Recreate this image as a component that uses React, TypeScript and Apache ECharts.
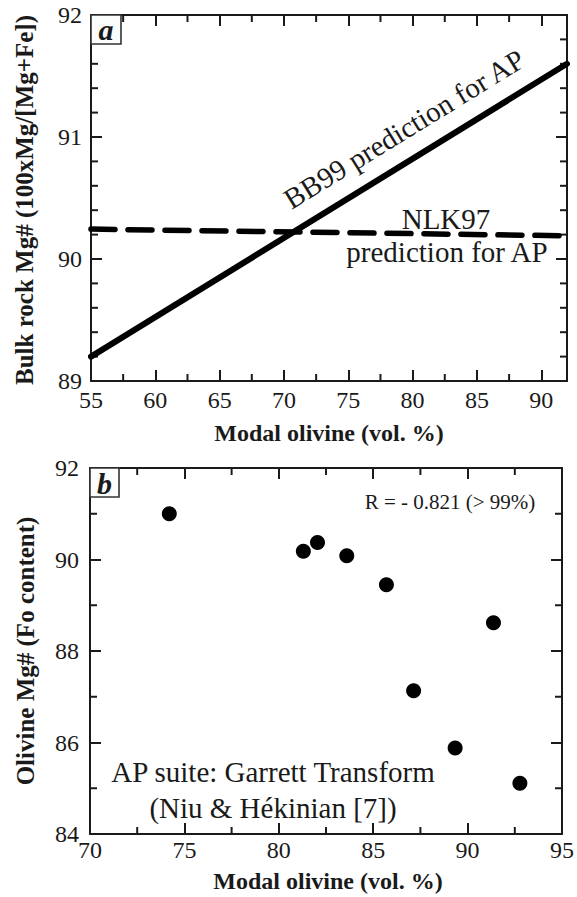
import React, { useEffect, useRef } from "react";
import * as echarts from "echarts";

const FONT = "Liberation Serif, Times New Roman, Times, serif";
const INK = "#1a1a1a";

// ---- Panel a data ----
const aXRange = [55, 92];
const aYRange = [89, 92];
const aXMinorTicks = [57.5, 62.5, 67.5, 72.5, 77.5, 82.5, 87.5];
const aYMinorTicks = [89.2, 89.4, 89.6, 89.8, 90.2, 90.4, 90.6, 90.8, 91.2, 91.4, 91.6, 91.8];
const bb99X = [55, 92];
const bb99Y = [89.2, 91.6];
const nlk97X = [55, 92];
const nlk97Y = [90.245, 90.19];

// ---- Panel b data ----
const bXRange = [70, 95];
const bYRange = [84, 92];
const bXMinorTicks = [72.5, 77.5, 82.5, 87.5, 92.5];
const bYMinorTicks = [85, 87, 89, 91];
const modalOlivine = [74.2, 81.3, 82.05, 83.6, 85.7, 91.37, 87.14, 89.34, 92.77];
const olivineMg = [91.0, 90.18, 90.37, 90.08, 89.45, 88.62, 87.13, 85.88, 85.11];

const MAJOR_LEN = 11;
const MINOR_LEN = 7;
const TICK_W = 2;

function axis(gridIndex: number, position: string, range: number[], interval: number, showLabel: boolean, margin: number, hideValue?: number) {
  return {
    type: "value",
    gridIndex,
    position,
    min: range[0],
    max: range[1],
    interval,
    splitLine: { show: false },
    axisLine: { show: true, onZero: false, lineStyle: { color: INK, width: 2 } },
    axisTick: { show: true, inside: true, length: MAJOR_LEN, lineStyle: { color: INK, width: TICK_W } },
    axisLabel: {
      show: showLabel,
      margin,
      color: INK,
      fontFamily: FONT,
      fontSize: 24,
      formatter: (v: number) => (hideValue !== undefined && Math.abs(v - hideValue) < 1e-6 ? "" : String(v)),
    },
  };
}

function zip(xs: number[], ys: number[]) {
  return xs.map((x, i) => [x, ys[i]]);
}

function minorTicks(chart: any, idx: number, xr: number[], yr: number[], xMinor: number[], yMinor: number[]) {
  const out: any[] = [];
  const finder = { xAxisIndex: idx, yAxisIndex: idx };
  const px = (x: number, y: number) => chart.convertToPixel(finder, [x, y]) as number[];
  xMinor.forEach((v) => {
    const b = px(v, yr[0]);
    const t = px(v, yr[1]);
    out.push({ type: "rect", shape: { x: b[0] - TICK_W / 2, y: b[1] - MINOR_LEN, width: TICK_W, height: MINOR_LEN }, style: { fill: INK } });
    out.push({ type: "rect", shape: { x: t[0] - TICK_W / 2, y: t[1], width: TICK_W, height: MINOR_LEN }, style: { fill: INK } });
  });
  yMinor.forEach((v) => {
    const l = px(xr[0], v);
    const r = px(xr[1], v);
    out.push({ type: "rect", shape: { x: l[0], y: l[1] - TICK_W / 2, width: MINOR_LEN, height: TICK_W }, style: { fill: INK } });
    out.push({ type: "rect", shape: { x: r[0] - MINOR_LEN, y: r[1] - TICK_W / 2, width: MINOR_LEN, height: TICK_W }, style: { fill: INK } });
  });
  return out;
}

export default function App() {
  const ref = useRef<HTMLDivElement>(null);
  useEffect(() => {
    if (!ref.current) return;
    const chart = echarts.init(ref.current, undefined, { renderer: "svg" });
    const textStyle = (extra: any) => ({ fill: INK, fontFamily: FONT, align: "center", verticalAlign: "middle", ...extra });
    chart.setOption({
      animation: false,
      backgroundColor: "#ffffff",
      textStyle: { fontFamily: FONT, color: INK },
      grid: [
        { left: 91, top: 15, width: 476, height: 366 },
        { left: 90, top: 468, width: 476, height: 366 },
      ],
      xAxis: [
        axis(0, "bottom", aXRange, 5, true, 7, 92),
        axis(0, "top", aXRange, 5, false, 7),
        axis(1, "bottom", bXRange, 5, true, 4),
        axis(1, "top", bXRange, 5, false, 4),
      ],
      yAxis: [
        axis(0, "left", aYRange, 1, true, 9),
        axis(0, "right", aYRange, 1, false, 9),
        axis(1, "left", bYRange, 2, true, 11),
        axis(1, "right", bYRange, 2, false, 11),
      ],
      series: [
        {
          type: "line",
          name: "BB99",
          xAxisIndex: 0,
          yAxisIndex: 0,
          data: zip(bb99X, bb99Y),
          symbol: "none",
          lineStyle: { color: "#000", width: 6, cap: "round" },
        },
        {
          type: "line",
          name: "NLK97",
          xAxisIndex: 0,
          yAxisIndex: 0,
          data: zip(nlk97X, nlk97Y),
          symbol: "none",
          lineStyle: { color: "#000", width: 5.5, type: [24, 13], cap: "round" },
        },
        {
          type: "scatter",
          name: "AP suite",
          xAxisIndex: 2,
          yAxisIndex: 2,
          data: zip(modalOlivine, olivineMg),
          symbol: "circle",
          symbolSize: 15,
          itemStyle: { color: "#000", opacity: 1 },
        },
      ],
    });

    let minors: any[] = [];
    try {
      minors = [
        ...minorTicks(chart, 0, aXRange, aYRange, aXMinorTicks, aYMinorTicks),
        ...minorTicks(chart, 2, bXRange, bYRange, bXMinorTicks, bYMinorTicks),
      ];
    } catch (e) {
      minors = [];
    }

    chart.setOption({
      graphic: [
        ...minors,
        // panel labels
        { type: "rect", shape: { x: 91, y: 15, width: 30, height: 29 }, style: { fill: "#fbfdfd", stroke: "#333", lineWidth: 1.6 }, z: 30 },
        { type: "text", x: 106, y: 29, style: textStyle({ text: "a", fontSize: 30, fontWeight: "bold", fontStyle: "italic" }), z: 31 },
        { type: "rect", shape: { x: 90, y: 468, width: 29, height: 29 }, style: { fill: "#fbfdfd", stroke: "#333", lineWidth: 1.6 }, z: 30 },
        { type: "text", x: 104.5, y: 483, style: textStyle({ text: "b", fontSize: 30, fontWeight: "bold", fontStyle: "italic" }), z: 31 },
        // panel a annotations
        { type: "text", x: 404, y: 129, rotation: (31.6 * Math.PI) / 180, style: textStyle({ text: "BB99 prediction for AP", fontSize: 29 }) },
        { type: "text", x: 446, y: 219, style: textStyle({ text: "NLK97", fontSize: 29 }) },
        { type: "text", x: 447, y: 252, style: textStyle({ text: "prediction for AP", fontSize: 29 }) },
        // panel b annotations
        { type: "text", x: 450, y: 502, style: textStyle({ text: "R = - 0.821 (> 99%)", fontSize: 21 }) },
        { type: "text", x: 273, y: 772, style: textStyle({ text: "AP suite: Garrett Transform", fontSize: 29 }) },
        { type: "text", x: 273, y: 808, style: textStyle({ text: "(Niu & Hékinian [7])", fontSize: 29 }) },
        // axis titles
        { type: "text", x: 329, y: 433, style: textStyle({ text: "Modal olivine (vol. %)", fontSize: 24, fontWeight: "bold" }) },
        { type: "text", x: 328, y: 881, style: textStyle({ text: "Modal olivine (vol. %)", fontSize: 24, fontWeight: "bold" }) },
        { type: "text", x: 24, y: 200, rotation: Math.PI / 2, style: textStyle({ text: "Bulk rock Mg# (100xMg/[Mg+Fe])", fontSize: 25, fontWeight: "bold" }) },
        { type: "text", x: 25, y: 651, rotation: Math.PI / 2, style: textStyle({ text: "Olivine Mg# (Fo content)", fontSize: 25, fontWeight: "bold" }) },
      ],
    });
    return () => chart.dispose();
  }, []);
  return <div ref={ref} style={{ position: "absolute", left: 0, top: 0, width: 577, height: 897 }} />;
}
